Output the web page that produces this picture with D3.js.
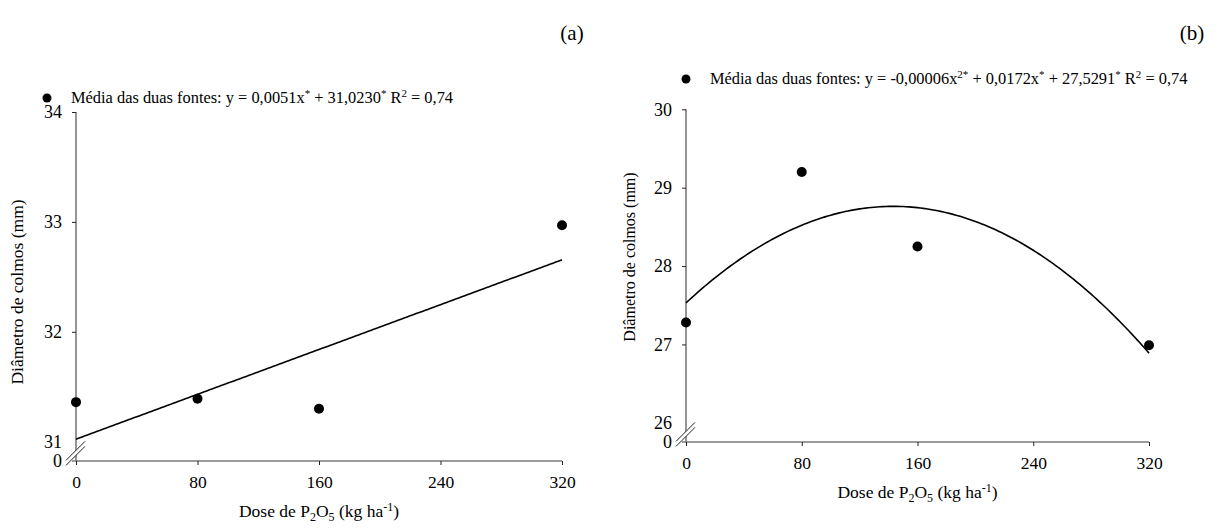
<!DOCTYPE html>
<html>
<head>
<meta charset="utf-8">
<script src="https://cdn.jsdelivr.net/npm/d3@7"></script>
<style>
  html, body { margin: 0; padding: 0; background: #fff; }
  svg, svg text { font-family: "Liberation Serif", "Times New Roman", Times, "DejaVu Serif", serif; }
</style>
</head>
<body>
<svg id="chart" width="1221" height="528"></svg>
<script>
// P2O5 doses (kg/ha)
const doses = [0, 80, 160, 320];
const xTicks = [0, 80, 160, 240, 320];

// Panel (a): linear fit of stalk diameter
const diamA = [31.36, 31.39, 31.30, 32.97];
const yTicksA = [0, 31, 32, 33, 34];
const coefA = [31.0230, 0.0051, 0];

// Panel (b): quadratic fit of stalk diameter
const diamB = [27.28, 29.20, 28.25, 26.99];
const yTicksB = [0, 26, 27, 28, 29, 30];
const coefB = [27.5291, 0.0172, -0.00006];

const FONT = '"Liberation Serif", "Times New Roman", Times, "DejaVu Serif", serif';
const svg = d3.select("#chart");
const axisColor = "#7a7a7a";

function panel(cfg) {
  const g = svg.append("g").attr("font-family", FONT);
  const x = d3.scaleLinear().domain([0, 320]).range([cfg.x0, cfg.x1]);
  // broken axis: a short segment for 0..break, then the real range
  const y = d3.scaleLinear()
    .domain([0, cfg.yBreak, cfg.yMax])
    .range([cfg.yZero, cfg.yBreakPx, cfg.yTop]);

  // x axis
  const xa = g.append("g").attr("transform", `translate(0,${cfg.yZero})`)
    .call(d3.axisBottom(x).tickValues(xTicks).tickSize(4).tickSizeOuter(0).tickPadding(11));
  xa.attr("font-family", FONT);
  xa.select(".domain").attr("stroke", axisColor).attr("stroke-width", 1.6)
    .attr("d", `M${cfg.x0 - 4},0H${cfg.x1}`);
  xa.selectAll(".tick line").attr("stroke", "#222");
  xa.selectAll(".tick text").attr("font-size", 17.5).attr("fill", "#000");

  // y axis
  const ya = g.append("g").attr("transform", `translate(${cfg.x0},0)`)
    .call(d3.axisLeft(y).tickValues(cfg.yTicks).tickSize(4).tickSizeOuter(0).tickPadding(10));
  ya.attr("font-family", FONT);
  ya.select(".domain").attr("stroke", axisColor).attr("stroke-width", 1.6)
    .attr("d", `M0,${cfg.yZero}V${cfg.yTop}`);
  ya.selectAll(".tick line").attr("stroke", "#222")
    .filter(d => d === 0 || d === cfg.yBreak).remove();
  ya.selectAll(".tick text").attr("font-size", 18).attr("fill", "#000");

  // break marks on the y axis
  const bx = cfg.x0, by = (cfg.yZero + cfg.yBreakPx) / 2 + 1;
  g.append("path")
    .attr("d", `M${bx - 9},${by + 7}L${bx + 7},${by - 9}L${bx + 7},${by - 4}L${bx - 9},${by + 12}Z`)
    .attr("fill", "#fff");
  [0, 5].forEach(off => {
    g.append("line")
      .attr("x1", bx - 10).attr("y1", by + 8 + off)
      .attr("x2", bx + 9).attr("y2", by - 11 + off)
      .attr("stroke", "#222").attr("stroke-width", 1);
  });

  // fitted curve
  const xs = d3.range(0, 320.01, 2);
  const f = v => cfg.coef[0] + cfg.coef[1] * v + cfg.coef[2] * v * v;
  g.append("path")
    .datum(xs)
    .attr("fill", "none").attr("stroke", "#000").attr("stroke-width", 1.6)
    .attr("d", d3.line().x(d => x(d)).y(d => y(f(d))));

  // observed means
  g.selectAll("circle.pt").data(doses).join("circle")
    .attr("class", "pt")
    .attr("cx", d => x(d)).attr("cy", (d, i) => y(cfg.values[i]))
    .attr("r", 5).attr("fill", "#000");

  // y title
  g.append("text")
    .attr("transform", `translate(${cfg.yTitleX},${cfg.yTitleY}) rotate(-90)`)
    .attr("text-anchor", "middle").attr("font-size", cfg.yTitleSize)
    .text("Diâmetro de colmos (mm)");

  // x title with sub/superscripts
  const xt = g.append("text")
    .attr("x", (cfg.x0 + cfg.x1) / 2).attr("y", cfg.yZero + 56)
    .attr("text-anchor", "middle").attr("font-size", 17.5);
  xt.append("tspan").text("Dose de P");
  xt.append("tspan").attr("font-size", 12).attr("dy", 4).text("2");
  xt.append("tspan").attr("dy", -4).text("O");
  xt.append("tspan").attr("font-size", 12).attr("dy", 4).text("5");
  xt.append("tspan").attr("dy", -4).text(" (kg ha");
  xt.append("tspan").attr("font-size", 12).attr("dy", -6).text("-1");
  xt.append("tspan").attr("dy", 6).text(")");

  // legend
  g.append("circle").attr("cx", cfg.legX).attr("cy", cfg.legY - 5).attr("r", 4.5).attr("fill", "#000");
  const lt = g.append("text").attr("x", cfg.legX + 24).attr("y", cfg.legY).attr("font-size", 16.4);
  let shift = 0;
  cfg.legend.forEach(part => {
    if (part.sup) {
      lt.append("tspan").attr("font-size", 11).attr("dy", -6 - shift).text(part.sup);
      shift = -6;
    } else {
      lt.append("tspan").attr("dy", -shift).text(part.t);
      shift = 0;
    }
  });

  // panel letter
  g.append("text").attr("x", cfg.letterX).attr("y", cfg.letterY)
    .attr("font-size", 21).attr("text-anchor", "middle").text(cfg.letter);
}

panel({
  x0: 76, x1: 562, yZero: 461, yBreakPx: 441.7, yTop: 112,
  yBreak: 31, yMax: 34, yTicks: yTicksA, values: diamA, coef: coefA,
  yTitleX: 23, yTitleY: 292, yTitleSize: 17.5,
  legX: 47, legY: 103, letterX: 572, letterY: 40, letter: "(a)",
  legend: [
    { t: "Média das duas fontes: y = 0,0051x" }, { sup: "*" },
    { t: " + 31,0230" }, { sup: "*" }, { t: " R" }, { sup: "2" }, { t: " = 0,74" }
  ]
});

panel({
  x0: 686, x1: 1149, yZero: 442, yBreakPx: 422.8, yTop: 109.3,
  yBreak: 26, yMax: 30, yTicks: yTicksB, values: diamB, coef: coefB,
  yTitleX: 635, yTitleY: 257, yTitleSize: 16,
  legX: 686, legY: 84, letterX: 1192, letterY: 40, letter: "(b)",
  legend: [
    { t: "Média das duas fontes: y = -0,00006x" }, { sup: "2*" },
    { t: " + 0,0172x" }, { sup: "*" }, { t: " + 27,5291" }, { sup: "*" },
    { t: " R" }, { sup: "2" }, { t: " = 0,74" }
  ]
});
</script>
</body>
</html>
